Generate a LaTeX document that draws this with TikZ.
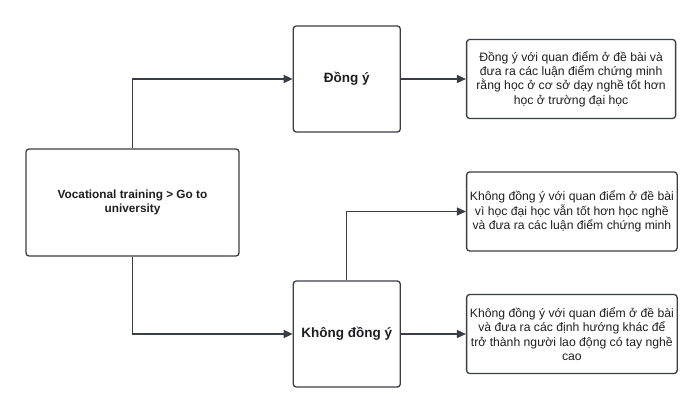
\documentclass[tikz,border=0pt]{standalone}
\usepackage{fontspec}
\setmainfont{Liberation Sans}
\usepackage{xcolor}
\definecolor{edge-gray}{RGB}{58, 61, 69}
\definecolor{text-gray}{RGB}{30, 30, 32}
\usepackage{tikz}
\usetikzlibrary{arrows.meta, positioning}

\begin{document}
\begin{tikzpicture}[
  x=1pt, y=1pt,
  topic/.style={draw=edge-gray, line width=1.3pt, rounded corners=3pt,
                minimum width=213pt, minimum height=107pt, align=center,
                text=text-gray, font=\fontsize{11.8}{14}\selectfont\bfseries},
  choice/.style={draw=edge-gray, line width=1.3pt, rounded corners=3pt,
                 minimum width=107pt, minimum height=106pt, align=center,
                 text=text-gray, font=\fontsize{13.5}{15}\selectfont\bfseries},
  result/.style={draw=edge-gray, line width=1.3pt, rounded corners=3pt,
                 minimum width=209pt, minimum height=79pt, align=center,
                 text=text-gray, font=\fontsize{12.2}{14.4}\selectfont},
  arr/.style={-{Triangle[length=9pt, width=8pt]}, line width=1.3pt, edge-gray},
]
\useasboundingbox (0,0) rectangle (700,-414);

% Chu de (trai)
\node[topic] (main) at (132.5,-202.5) {Vocational training > Go to\\university};

% Hai lua chon (giua)
\node[choice, right=53pt of main, yshift=123.5pt] (dong) {Đồng ý};
\node[choice, right=53pt of main, yshift=-131.5pt] (khong) {Không đồng ý};

% Cac huong lap luan (phai)
\node[result, right=65pt of dong] (res1) {Đồng ý với quan điểm ở đề bài và\\đưa ra các luận điểm chứng minh\\rằng học ở cơ sở dạy nghề tốt hơn\\học ở trường đại học};
\node[result, right=65pt of khong, yshift=122.5pt] (res2) {Không đồng ý với quan điểm ở đề bài\\vì học đại học vẫn tốt hơn học nghề\\và đưa ra các luận điểm chứng minh};
\node[result, right=65pt of khong] (res3) {Không đồng ý với quan điểm ở đề bài\\và đưa ra các định hướng khác để\\trở thành người lao động có tay nghề\\cao};

% Mui ten chu de -> lua chon
\draw[arr] (main.north) |- (dong.west);
\draw[arr] (main.south) |- (khong.west);

% Mui ten lua chon -> lap luan
\draw[arr] (dong.east) -- (res1.west);
\draw[arr] (khong.north) |- (res2.west);
\draw[arr] (khong.east) -- (res3.west);

\end{tikzpicture}
\end{document}
